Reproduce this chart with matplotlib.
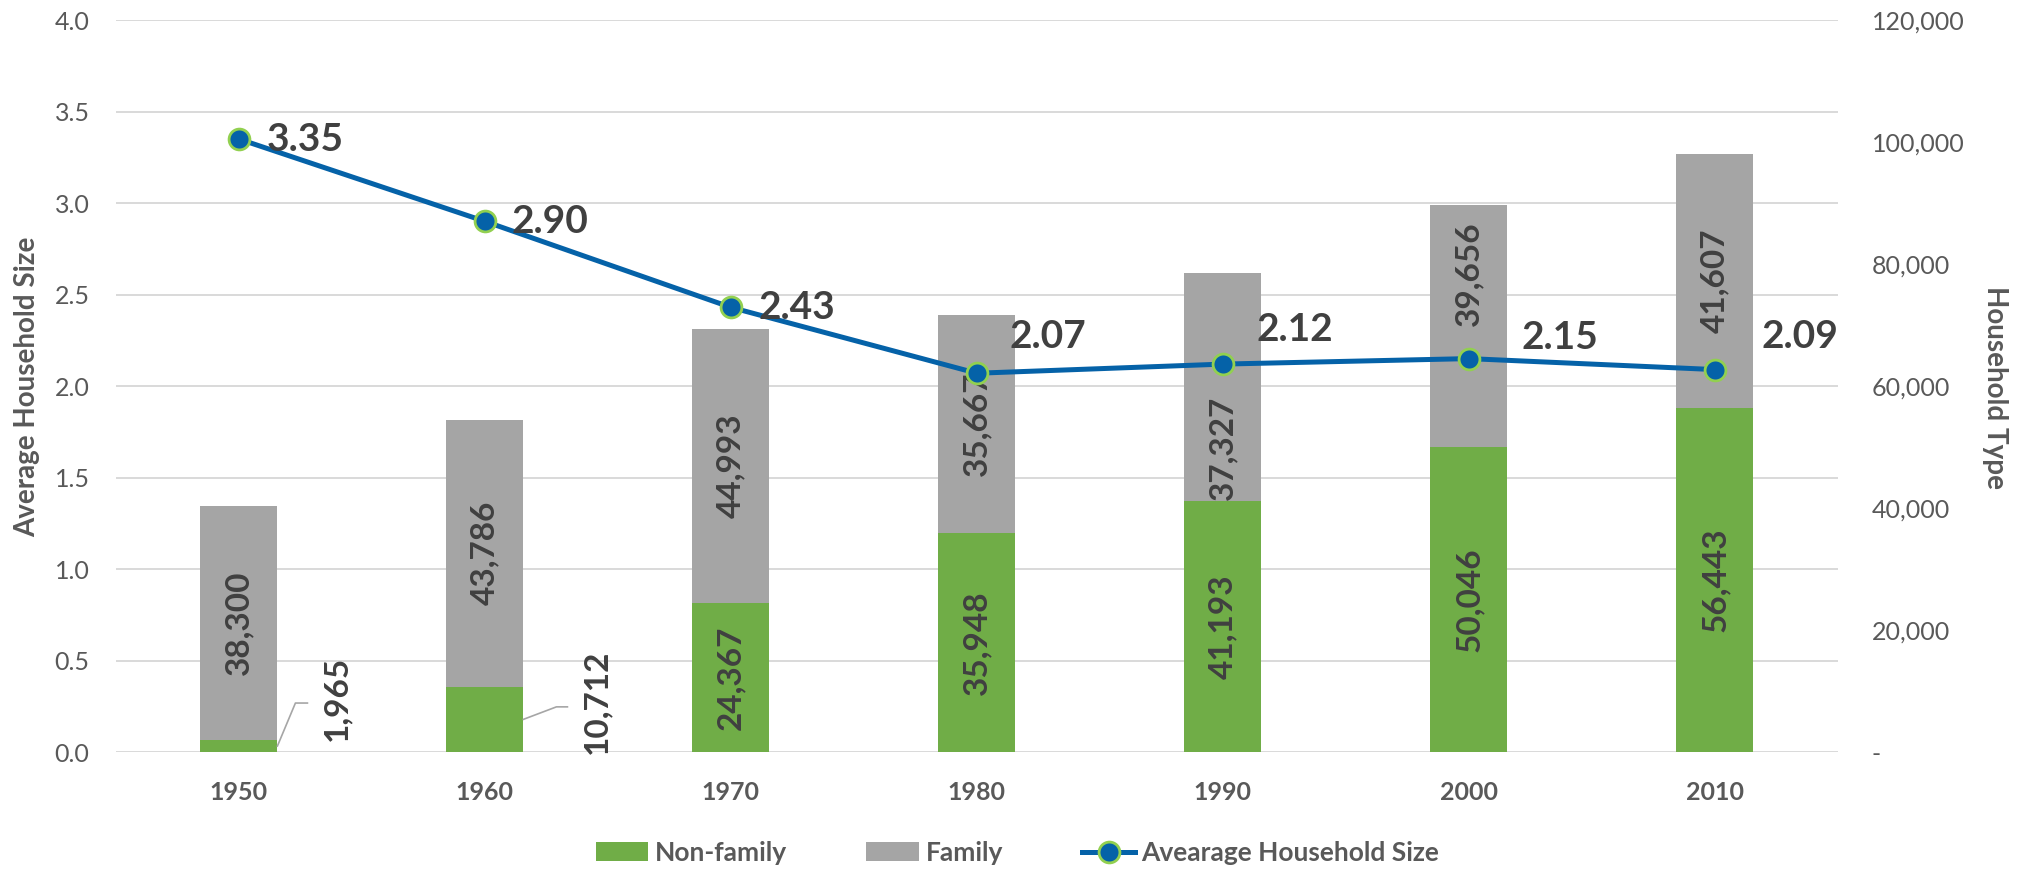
import matplotlib
matplotlib.use("Agg")
import matplotlib.pyplot as plt
from matplotlib.ticker import FuncFormatter, MultipleLocator
from matplotlib.patches import Patch
from matplotlib.lines import Line2D
from matplotlib.transforms import Affine2D, ScaledTranslation

# ---------------- data ----------------
years = ["1950", "1960", "1970", "1980", "1990", "2000", "2010"]
non_family = [1965, 10712, 24367, 35948, 41193, 50046, 56443]
family = [38300, 43786, 44993, 35667, 37327, 39656, 41607]
avg_size = [3.35, 2.90, 2.43, 2.07, 2.12, 2.15, 2.09]
avg_labels = ["3.35", "2.90", "2.43", "2.07", "2.12", "2.15", "2.09"]
series_names = ["Non-family", "Family", "Avearage Household Size"]
left_title = "Average Household Size"
right_title = "Household Type"

# ---------------- styling ----------------
GREEN = "#70AD47"
GRAY = "#A5A5A5"
BLUE = "#0562A8"
MEDGE = "#92D050"
DARK = "#404040"
TICK = "#595959"
GRID = "#D9D9D9"
FONT = ["Lato", "DejaVu Sans"]
PX = 0.72  # points per pixel at dpi 100

fig = plt.figure(figsize=(20.23, 8.69), dpi=100)
ax = fig.add_axes([0.0573, 0.1346, 0.8512, 0.8423])
ax_b = ax.twinx()
ax_l = ax.twinx()

x = list(range(len(years)))
bw = 0.313

# background grid / left axis
ax.set_xlim(-0.5, len(years) - 0.5)
ax.set_ylim(0, 4)
ax.yaxis.set_major_locator(MultipleLocator(0.5))
ax.yaxis.set_major_formatter(FuncFormatter(lambda v, p: f"{v:.1f}"))
ax.yaxis.grid(True, color=GRID, lw=1.4)
ax.set_axisbelow(True)
ax.set_xticks(x)
ax.set_xticklabels(years)
for s in ax.spines.values():
    s.set_visible(False)
ax.tick_params(axis="y", length=0, pad=19, labelsize=18, labelcolor=TICK)
ax.tick_params(axis="x", length=0, pad=21, labelsize=18, labelcolor=TICK)
for lab in ax.get_yticklabels():
    lab.set_fontfamily(FONT)
for lab in ax.get_xticklabels():
    lab.set_fontfamily(FONT)
    lab.set_fontweight("bold")

# bars on right axis
ax_b.set_ylim(0, 120000)
ax_b.yaxis.set_major_locator(MultipleLocator(20000))
ax_b.yaxis.set_major_formatter(FuncFormatter(lambda v, p: "-" if v == 0 else f"{v:,.0f}"))
ax_b.tick_params(axis="y", length=0, pad=24.5, labelsize=18, labelcolor=TICK)
for lab in ax_b.get_yticklabels():
    lab.set_fontfamily(FONT)
for s in ax_b.spines.values():
    s.set_visible(False)

ax_b.bar(x, non_family, bw, color=GREEN, zorder=2)
ax_b.bar(x, family, bw, bottom=non_family, color=GRAY, zorder=2)

# bar data labels
nf_leader = [[(0, 0), (18, 43), (30, 43)], [(0, 0), (33, 12.5), (44, 12.5)], None, None, None, None, None]
nf_outside = [True, True, False, False, False, False, False]
nf_text_px = [(59, 48), (73, 17.5)]
fam_offsets_px = [0, 0, 0, 0, -61, 52, 0]

lbl_kw = dict(rotation=90, ha="center", va="center", fontsize=24, fontweight="bold",
              color=DARK, family=FONT, zorder=5)

for i in x:
    nf = non_family[i]
    fm = family[i]
    if nf_outside[i]:
        ax_x = i + bw / 2
        ax_y = nf / 2
        tx, ty = nf_text_px[i]
        ax_b.annotate(f"{nf:,}", xy=(ax_x, ax_y), xytext=(tx * PX, ty * PX),
                      textcoords="offset points", **lbl_kw)
        pts = nf_leader[i]
        tr = Affine2D().scale(fig.dpi / 72.0) + ScaledTranslation(ax_x, ax_y, ax_b.transData)
        ax_b.add_line(Line2D([p[0] * PX for p in pts], [p[1] * PX for p in pts],
                             transform=tr, color="#A6A6A6", lw=1.2, zorder=4))
    else:
        ax_b.annotate(f"{nf:,}", xy=(i, nf / 2), xytext=(0, 0),
                      textcoords="offset points", **lbl_kw)
    ax_b.annotate(f"{fm:,}", xy=(i, nf + fm / 2), xytext=(0, fam_offsets_px[i] * PX),
                  textcoords="offset points", **lbl_kw)

# line on top axis
ax_l.set_ylim(0, 4)
ax_l.yaxis.set_visible(False)
for s in ax_l.spines.values():
    s.set_visible(False)
ax_l.plot(x, avg_size, color=BLUE, lw=3.6, marker="o", ms=15, mfc=BLUE,
          mec=MEDGE, mew=2, zorder=6)
line_off_px = [(28, 0), (27, 0), (28, 0), (33, 37), (34, 35), (53, 21), (47, 33)]
for i in x:
    dx, dy = line_off_px[i]
    ax_l.annotate(avg_labels[i], xy=(i, avg_size[i]), xytext=(dx * PX, dy * PX),
                  textcoords="offset points", ha="left", va="center",
                  fontsize=28, fontweight="bold", color=DARK, family=FONT, zorder=7)

# axis titles
fig.text(27 / 2023, 1 - 387 / 869, left_title, rotation=90, ha="center", va="center",
         fontsize=20, fontweight="bold", color=TICK, family=FONT)
fig.text(1995 / 2023, 1 - 387 / 869, right_title, rotation=270, ha="center", va="center",
         fontsize=20, fontweight="bold", color=TICK, family=FONT)

# legend
handles = [
    Patch(facecolor=GREEN, edgecolor="none"),
    Patch(facecolor=GRAY, edgecolor="none"),
    Line2D([], [], color=BLUE, lw=3.6, marker="o", ms=15, mfc=BLUE, mec=MEDGE, mew=2),
]
leg = fig.legend(handles, series_names, loc="center", bbox_to_anchor=(0.503, 0.0184),
                 ncol=3, frameon=False, handlelength=2.0, handleheight=0.72,
                 handletextpad=0.25, columnspacing=3.0,
                 prop={"family": FONT, "weight": "bold", "size": 19})
for t in leg.get_texts():
    t.set_color(TICK)

fig.savefig("out.png", dpi=100)
